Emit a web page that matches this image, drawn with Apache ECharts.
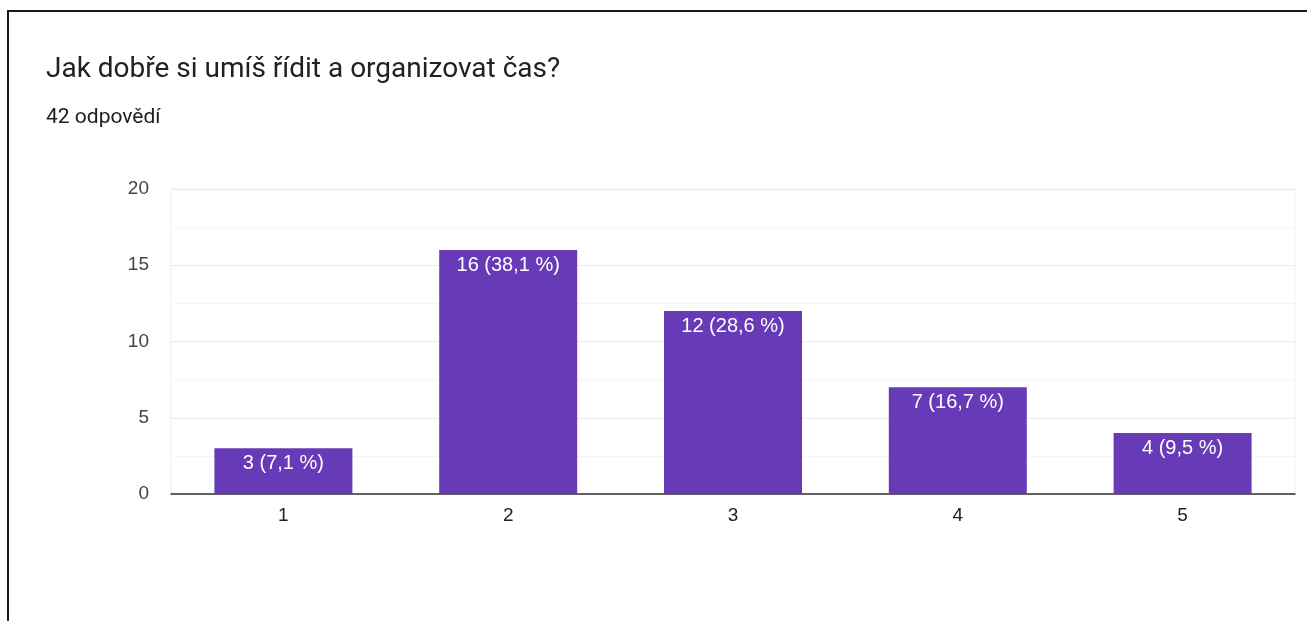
<!DOCTYPE html>
<html>
<head>
<meta charset="utf-8">
<script src="https://cdn.jsdelivr.net/npm/echarts@6/dist/echarts.min.js"></script>
<style>
	html,body{margin:0;padding:0;background:#fff;}
	#frame{position:absolute;left:7px;top:10px;width:1300px;height:611px;border-left:2px solid #1a1a1a;border-top:2px solid #1a1a1a;}
	#main{position:absolute;left:0;top:0;width:1307px;height:621px;}
</style>
</head>
<body>
<div id="frame"></div>
<div id="main"></div>
<script>
// data
var categories = ['1','2','3','4','5'];
var counts = [3,16,12,7,4];
var percents = ['7,1','38,1','28,6','16,7','9,5'];
var titleText = 'Jak dobře si umíš řídit a organizovat čas?';
var subText = '42 odpovědí';

var chart = echarts.init(document.getElementById('main'));
chart.setOption({
	animation:false,
	title:[{
		text:titleText,
		left:41,
		top:51,
		textStyle:{fontFamily:'Roboto',fontSize:28,fontWeight:'normal',color:'#202124'}
	},{
		text:subText,
		left:41,
		top:102,
		textStyle:{fontFamily:'Roboto',fontSize:21,fontWeight:'normal',color:'#202124'}
	}],
	grid:{left:171,right:12,top:189,bottom:127,show:true,borderColor:'#efefef',borderWidth:1},
	xAxis:{
		type:'category',
		data:categories,
		axisLine:{lineStyle:{color:'#333',width:1.5}},
		axisTick:{show:false},
		axisLabel:{fontFamily:'Liberation Sans',fontSize:19,color:'#222',margin:12}
	},
	yAxis:{
		type:'value',
		min:0,
		max:20,
		interval:5,
		axisLine:{show:false},
		axisTick:{show:false},
		axisLabel:{fontFamily:'Liberation Sans',fontSize:19,color:'#444',margin:22},
		splitLine:{lineStyle:{color:'#ebebeb',width:1}},
		minorTick:{show:false,splitNumber:2},
		minorSplitLine:{show:true,lineStyle:{color:'#f5f5f5',width:1}}
	},
	series:[{
		type:'bar',
		data:counts,
		barWidth:138,
		itemStyle:{color:'#673ab7'},
		label:{
			show:true,
			position:'insideTop',
			distance:5,
			color:'#fff',
			fontFamily:'Liberation Sans',
			fontSize:20,
			formatter:function(p){
				return p.value + ' (' + percents[p.dataIndex] + ' %)';
			}
		}
	}]
});
</script>
</body>
</html>
